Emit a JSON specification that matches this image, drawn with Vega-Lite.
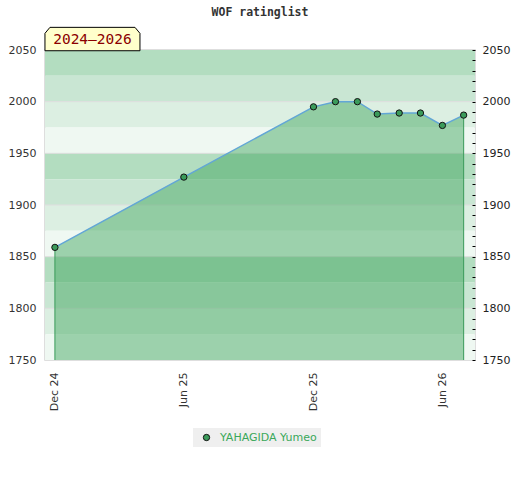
{
  "$schema": "https://vega.github.io/schema/vega-lite/v6.json",
  "width": 430,
  "height": 310,
  "autosize": {"type": "none"},
  "padding": {"left": 45, "top": 50, "right": 45, "bottom": 120},
  "background": "white",
  "title": {
    "text": "WOF ratinglist",
    "font": "DejaVu Sans Mono",
    "fontSize": 11.5,
    "fontWeight": "bold",
    "color": "#333333",
    "frame": "group",
    "offset": 7
  },
  "datasets": {
    "ratings": [
      {"date": "2024-12-01", "rating": 1859, "player": "YAHAGIDA Yumeo"},
      {"date": "2025-06-01", "rating": 1927, "player": "YAHAGIDA Yumeo"},
      {"date": "2025-12-01", "rating": 1995, "player": "YAHAGIDA Yumeo"},
      {"date": "2026-01-01", "rating": 2000, "player": "YAHAGIDA Yumeo"},
      {"date": "2026-02-01", "rating": 2000, "player": "YAHAGIDA Yumeo"},
      {"date": "2026-03-01", "rating": 1988, "player": "YAHAGIDA Yumeo"},
      {"date": "2026-04-01", "rating": 1989, "player": "YAHAGIDA Yumeo"},
      {"date": "2026-05-01", "rating": 1989, "player": "YAHAGIDA Yumeo"},
      {"date": "2026-06-01", "rating": 1977, "player": "YAHAGIDA Yumeo"},
      {"date": "2026-07-01", "rating": 1987, "player": "YAHAGIDA Yumeo"}
    ],
    "bands": [
      {"lo": 2025, "hi": 2050, "shade": "s1"},
      {"lo": 2000, "hi": 2025, "shade": "s2"},
      {"lo": 1975, "hi": 2000, "shade": "s3"},
      {"lo": 1950, "hi": 1975, "shade": "s4"},
      {"lo": 1925, "hi": 1950, "shade": "s1"},
      {"lo": 1900, "hi": 1925, "shade": "s2"},
      {"lo": 1875, "hi": 1900, "shade": "s3"},
      {"lo": 1850, "hi": 1875, "shade": "s4"},
      {"lo": 1825, "hi": 1850, "shade": "s1"},
      {"lo": 1800, "hi": 1825, "shade": "s2"},
      {"lo": 1775, "hi": 1800, "shade": "s3"},
      {"lo": 1750, "hi": 1775, "shade": "s4"}
    ],
    "grid": [{"v": 1800}, {"v": 1850}, {"v": 1900}, {"v": 1950}, {"v": 2000}]
  },
  "layer": [
    {
      "data": {"name": "bands"},
      "mark": {"type": "rect"},
      "encoding": {
        "y": {"field": "lo", "type": "quantitative", "scale": {"domain": [1750, 2050], "nice": false, "zero": false}, "axis": null},
        "y2": {"field": "hi"},
        "fill": {
          "field": "shade", "type": "nominal",
          "scale": {"domain": ["s1", "s2", "s3", "s4"], "range": ["#b3ddc0", "#c9e6d3", "#dcefe2", "#eff8f2"]},
          "legend": null
        }
      }
    },
    {
      "data": {"name": "grid"},
      "mark": {"type": "rule", "color": "#dedede", "strokeWidth": 1},
      "encoding": {"y": {"field": "v", "type": "quantitative", "axis": null}}
    },
    {
      "data": {"name": "ratings"},
      "mark": {"type": "area", "color": "#3aa459", "opacity": 0.46},
      "encoding": {
        "x": {
          "field": "date", "type": "temporal",
          "scale": {"domain": [{"year": 2024, "month": 11, "date": 17}, {"year": 2026, "month": 7, "date": 17}]},
          "axis": {
            "values": [
              {"year": 2024, "month": 12, "date": 1},
              {"year": 2025, "month": 6, "date": 1},
              {"year": 2025, "month": 12, "date": 1},
              {"year": 2026, "month": 6, "date": 1}
            ],
            "format": "%b %y", "labelAngle": -90, "ticks": false, "domain": false, "grid": false,
            "labelPadding": 12, "labelFontSize": 11, "labelColor": "#333333", "title": null
          }
        },
        "y": {
          "field": "rating", "type": "quantitative",
          "axis": {
            "orient": "left", "values": [1750, 1800, 1850, 1900, 1950, 2000, 2050], "format": "d",
            "ticks": false, "domain": false, "grid": false, "labelPadding": 9,
            "labelFontSize": 11, "labelColor": "#333333", "title": null
          }
        },
        "y2": {"datum": 1750}
      }
    },
    {
      "data": {"name": "ratings"},
      "transform": [
        {"window": [{"op": "row_number", "as": "i"}]},
        {"joinaggregate": [{"op": "count", "as": "n"}]},
        {"filter": "datum.i == 1 || datum.i == datum.n"}
      ],
      "mark": {"type": "rule", "color": "#3a9a5a", "strokeWidth": 1},
      "encoding": {
        "x": {"field": "date", "type": "temporal"},
        "y": {"field": "rating", "type": "quantitative", "axis": null},
        "y2": {"datum": 1750}
      }
    },
    {
      "data": {"name": "ratings"},
      "mark": {"type": "line", "color": "#62a6d6", "strokeWidth": 1.5},
      "encoding": {
        "x": {"field": "date", "type": "temporal"},
        "y": {"field": "rating", "type": "quantitative", "axis": null}
      }
    },
    {
      "data": {"name": "ratings"},
      "mark": {"type": "circle", "size": 40, "stroke": "#111111", "strokeWidth": 1, "opacity": 1},
      "encoding": {
        "x": {"field": "date", "type": "temporal"},
        "y": {
          "field": "rating", "type": "quantitative",
          "axis": {
            "orient": "right",
            "values": [1750, 1760, 1770, 1780, 1790, 1800, 1810, 1820, 1830, 1840, 1850, 1860, 1870, 1880, 1890, 1900, 1910, 1920, 1930, 1940, 1950, 1960, 1970, 1980, 1990, 2000, 2010, 2020, 2030, 2040, 2050],
            "labelExpr": "datum.value % 50 == 0 ? format(datum.value, 'd') : ''",
            "offset": -3, "tickSize": 3, "tickColor": "#000000", "tickWidth": 1, "zindex": 1,
            "domain": false, "grid": false, "labelPadding": 7, "labelOverlap": false,
            "labelFontSize": 11, "labelColor": "#222222", "title": null
          }
        },
        "color": {
          "field": "player", "type": "nominal",
          "scale": {"range": ["#3b9b5b"]},
          "legend": {
            "orient": "none", "legendX": 148, "legendY": 378, "title": null,
            "fillColor": "#efefef", "padding": 4,
            "labelColor": "#3aa85a", "labelFontSize": 11, "labelFont": "DejaVu Sans",
            "symbolType": "circle", "symbolSize": 40, "symbolStrokeColor": "#111111",
            "symbolStrokeWidth": 1, "symbolOffset": 4, "labelOffset": 8
          }
        }
      }
    },
    {
      "data": {"values": [{"label": "2024–2026"}]},
      "mark": {
        "type": "point",
        "shape": "M-1,0.2463L-1,-0.12L-0.895,-0.2463L0.895,-0.2463L1,-0.12L1,0.2463Z",
        "size": 9025, "filled": true, "fill": "#ffffcc", "stroke": "#000000", "strokeWidth": 1, "opacity": 1
      },
      "encoding": {
        "x": {"datum": {"year": 2025, "month": 1, "date": 23}, "type": "temporal"},
        "y": {"datum": 2060.6, "type": "quantitative", "axis": null}
      }
    },
    {
      "data": {"values": [{"label": "2024–2026"}]},
      "mark": {"type": "text", "font": "DejaVu Sans Mono", "fontSize": 14.5, "color": "#8b0000", "align": "center", "baseline": "middle"},
      "encoding": {
        "x": {"datum": {"year": 2025, "month": 1, "date": 23}, "type": "temporal"},
        "y": {"datum": 2059.8, "type": "quantitative", "axis": null},
        "text": {"field": "label"}
      }
    }
  ],
  "resolve": {"scale": {"fill": "independent"}, "axis": {"y": "independent"}},
  "config": {
    "view": {"stroke": "#d4d4d4", "strokeWidth": 1.5},
    "font": "DejaVu Sans"
  }
}
